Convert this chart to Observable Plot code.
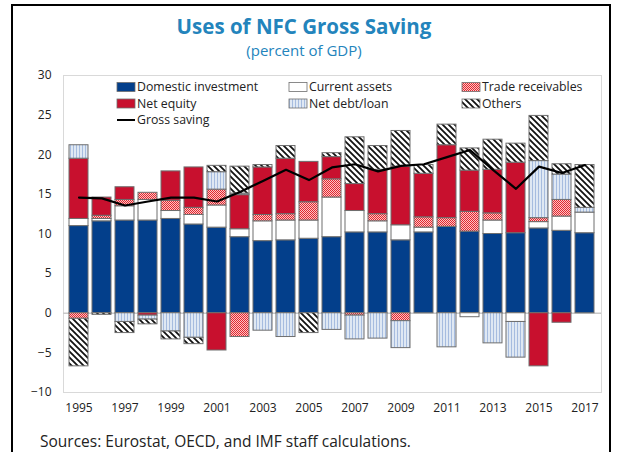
<!DOCTYPE html>
<html><head><meta charset="utf-8">
<script src="https://cdn.jsdelivr.net/npm/d3@7"></script>
<script src="https://cdn.jsdelivr.net/npm/@observablehq/plot@0.6"></script>
<style>
body{margin:0;background:#fff;font-family:"Open Sans",sans-serif;}
#wrap{position:relative;width:627px;height:452px;overflow:hidden;background:#fff;}
#border{position:absolute;left:11px;top:4px;width:600px;height:470px;border:2px solid #000;box-sizing:border-box;}
#title{position:absolute;left:0;width:608px;top:13px;text-align:center;font-size:20.5px;font-weight:700;color:#2384BC;line-height:26px;}
#subtitle{position:absolute;left:0;width:608px;top:41px;text-align:center;font-size:15px;color:#2384BC;line-height:18px;}
#caption{position:absolute;left:40px;top:430px;font-size:15.5px;color:#222;line-height:22px;}
#chart{position:absolute;left:0;top:60px;}
#legend{position:absolute;left:0;top:0;}
</style>
</head><body>
<div id="wrap">
  <div id="border"></div>
  <div id="title">Uses of NFC Gross Saving</div>
  <div id="subtitle">(percent of GDP)</div>
  <div id="chart"></div>
  <svg id="legend" width="627" height="140"></svg>
  <div id="caption">Sources: Eurostat, OECD, and IMF staff calculations.</div>
</div>
<script>
const years = d3.range(1995, 2018);
const seriesNames = ["Domestic investment","Current assets","Trade receivables","Net equity","Net debt/loan","Others"];
const domesticInvestment = [11.0,11.6,11.7,11.7,11.9,11.2,10.8,9.6,9.1,9.2,9.4,9.6,10.2,10.2,9.2,10.2,10.9,10.3,10.0,10.1,10.7,10.4,10.1];
const currentAssets      = [0.9,0.3,1.8,2.6,1.0,1.2,2.8,1.0,2.5,2.5,2.3,5.0,2.7,1.4,1.9,0.6,0,-0.5,1.7,-1.1,0.8,1.8,2.6];
const tradeReceivables   = [-0.7,0.4,0.8,0.9,1.3,0.9,2.0,-3.0,0.8,0.8,2.3,2.3,-0.3,0.9,-1.0,1.3,1.1,2.5,0.9,0,0.5,2.1,0];
const netEquity          = [7.6,2.3,1.6,-0.3,3.7,5.1,-4.7,4.3,6.0,7.0,5.1,2.8,3.4,5.6,7.4,5.5,9.2,5.2,5.5,8.9,-6.7,-1.2,0];
const netDebtLoan        = [1.7,0,-1.1,-0.5,-2.3,-3.1,2.2,0.2,-2.2,-3.0,0,-2.1,-3.0,-3.2,-3.4,0,-4.3,0,-3.8,-4.5,7.2,3.2,0.6];
const others             = [-6.0,-0.2,-1.4,-0.6,-1.0,-0.8,0.8,3.4,0.3,1.6,-2.5,0.5,5.9,3.0,4.5,1.1,2.6,2.8,3.8,2.4,5.7,1.3,5.4];
const grossSaving        = [14.6,14.5,13.6,14.1,14.6,14.6,14.1,15.3,16.7,18.1,16.8,18.4,18.8,17.9,18.6,18.8,19.7,20.6,18.1,15.7,18.5,17.7,18.7];
const xTickLabels = ["1995","1997","1999","2001","2003","2005","2007","2009","2011","2013","2015","2017"];
const yTicks = [-10,-5,0,5,10,15,20,25,30];

const seriesValues = [domesticInvestment,currentAssets,tradeReceivables,netEquity,netDebtLoan,others];
const fills = ["#033F8B","#ffffff","url(#pTR)","#C8102E","url(#pND)","url(#pOT)"];

const rows = [];
seriesNames.forEach((s, si) => {
  years.forEach((yr, i) => {
    const v = seriesValues[si][i];
    if (v !== 0) rows.push({year: yr, series: s, value: v});
  });
});
const lineRows = years.map((yr, i) => ({year: yr, value: grossSaving[i]}));

const defs = `
<defs>
  <pattern id="pTR" width="2" height="2" patternUnits="userSpaceOnUse">
    <rect width="2" height="2" fill="#fbc4c4"/>
    <rect width="1" height="1" fill="#e3262f"/>
    <rect x="1" y="1" width="1" height="1" fill="#e3262f"/>
  </pattern>
  <pattern id="pND" width="3" height="3" patternUnits="userSpaceOnUse">
    <rect width="3" height="3" fill="#dfe8f3"/>
    <rect x="1" width="1" height="3" fill="#a6bcdf"/>
  </pattern>
  <pattern id="pOT" width="6" height="6" patternUnits="userSpaceOnUse">
    <rect width="6" height="6" fill="#ffffff"/>
    <path d="M0,0L6,6M-1,5L1,7M5,-1L7,1" stroke="#111" stroke-width="1.8"/>
  </pattern>
</defs>`;

const legend = document.getElementById("legend");
const items = [
  {name:"Domestic investment", x:117, y:87, fill:fills[0]},
  {name:"Current assets", x:289, y:87, fill:fills[1]},
  {name:"Trade receivables", x:462, y:87, fill:fills[2]},
  {name:"Net equity", x:117, y:103.5, fill:fills[3]},
  {name:"Net debt/loan", x:289, y:103.5, fill:fills[4]},
  {name:"Others", x:462, y:103.5, fill:fills[5]}
];
let lg = defs;
items.forEach(it => {
  lg += `<rect x="${it.x}" y="${it.y-4.5}" width="18" height="9" fill="${it.fill}" stroke="#6e6e6e" stroke-width="0.8"/>`;
  lg += `<text x="${it.x+20}" y="${it.y}" dy="0.35em" font-size="12.3" fill="#222" font-family="Open Sans">${it.name}</text>`;
});
lg += `<line x1="117" x2="135" y1="120" y2="120" stroke="#000" stroke-width="2"/>`;
lg += `<text x="137" y="120" dy="0.35em" font-size="12.3" fill="#222" font-family="Open Sans">Gross saving</text>`;
legend.innerHTML = lg;

const chart = Plot.plot({
  width: 627, height: 370,
  marginLeft: 63, marginRight: 26, marginTop: 15, marginBottom: 38,
  style: {fontFamily: "Open Sans", fontSize: "12px", color: "#222", background: "transparent", overflow: "visible"},
  x: {type: "band", domain: years, paddingInner: 0.16, paddingOuter: 0.08,
      ticks: xTickLabels.map(Number), tickFormat: d => String(d), tickSize: 0, tickPadding: 11, label: null},
  y: {domain: [-10, 30], ticks: yTicks, tickSize: 0, tickPadding: 12, label: null},
  color: {type: "ordinal", domain: seriesNames, range: fills},
  marks: [
    Plot.frame({stroke: "#d9d9d9"}),
    Plot.ruleY([0], {stroke: "#c8c8c8", strokeWidth: 1.5}),
    Plot.barY(rows, {x: "year", y: "value", fill: "series", stroke: "#6e6e6e", strokeWidth: 1}),
    Plot.line(lineRows, {x: "year", y: "value", stroke: "#000", strokeWidth: 2.2})
  ]
});
document.getElementById("chart").appendChild(chart);
</script>
</body></html>
